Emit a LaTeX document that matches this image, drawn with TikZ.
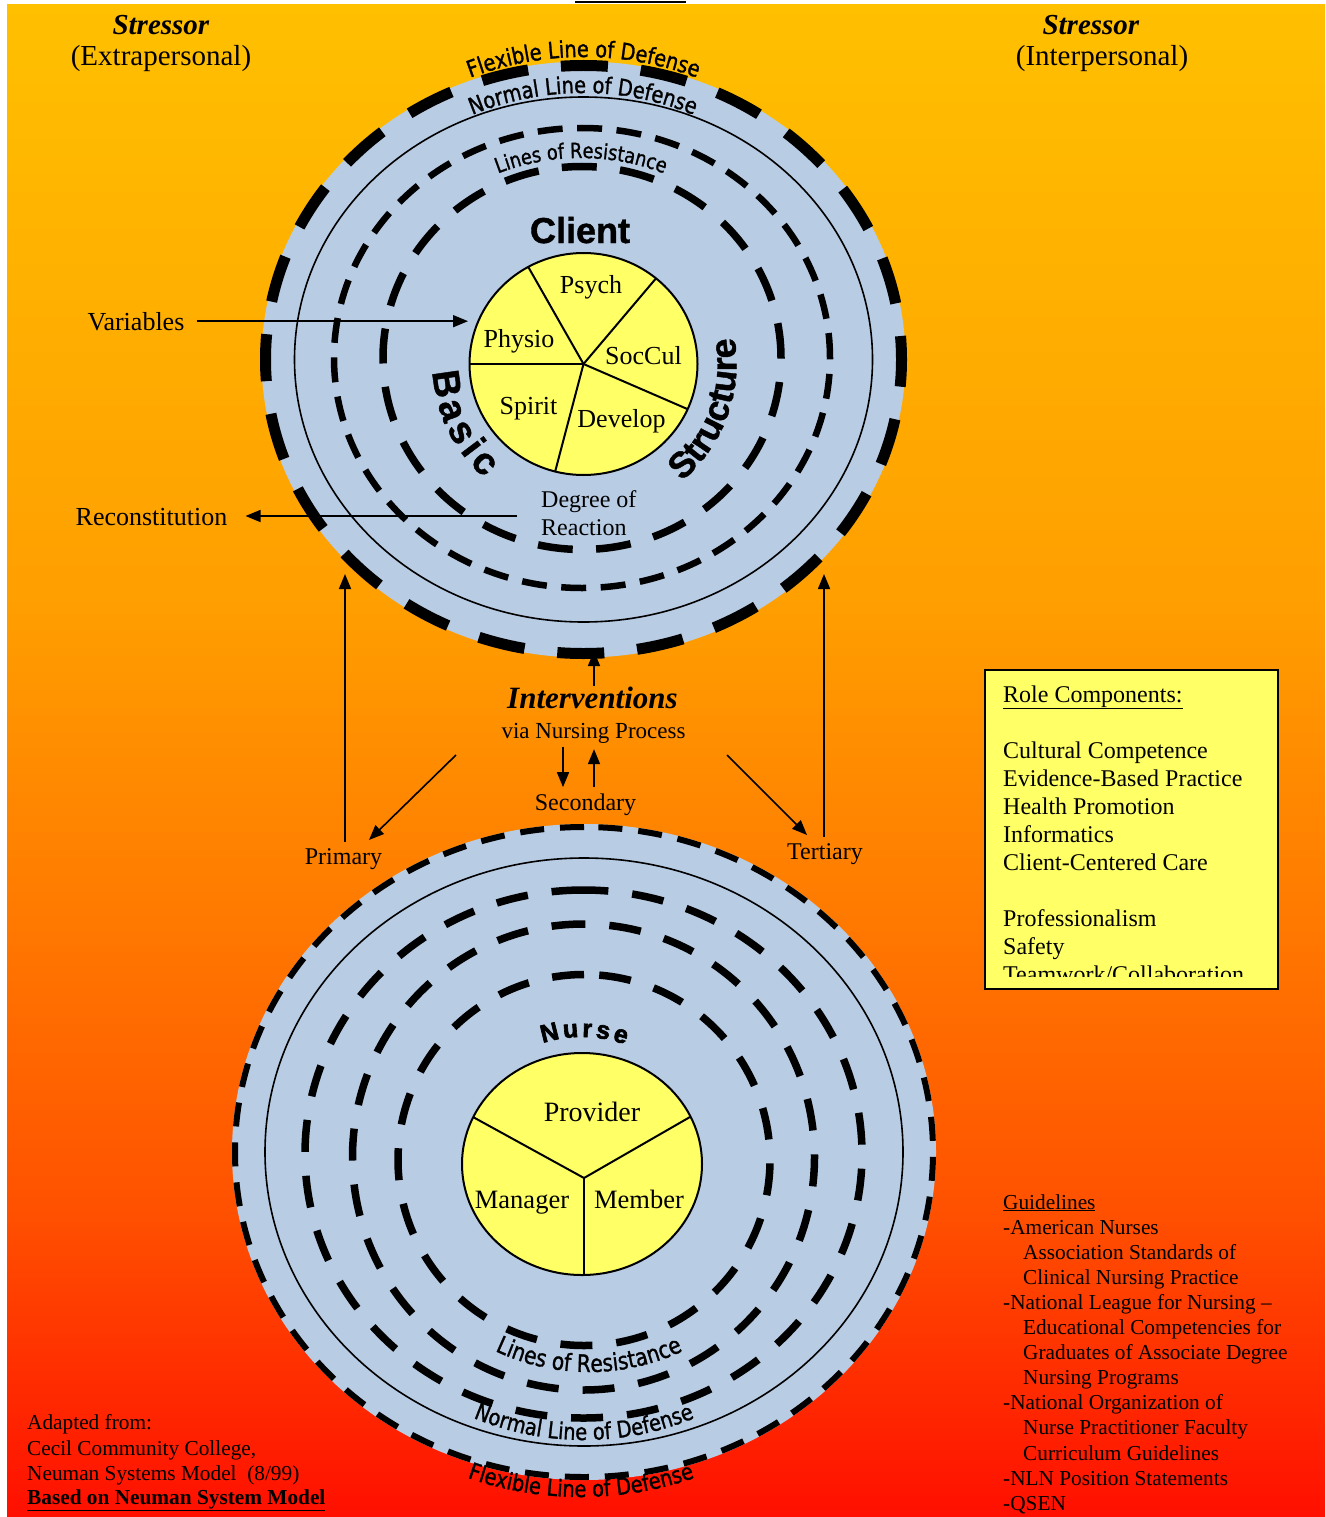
\documentclass[tikz,border=0pt]{standalone}
\usepackage{fontspec}
\setmainfont{Liberation Serif}
\newfontfamily\arcfont{DejaVu Sans}[FakeStretch=0.84, FakeBold=1.2]
\newfontfamily\hvfont{Liberation Sans}[BoldFeatures={FakeBold=1.2}]
\newfontfamily\blackfont{Liberation Sans}[BoldFeatures={FakeBold=2.5}]
\usetikzlibrary{arrows.meta,decorations.text}
\definecolor{diskblue}{RGB}{184,204,228}
\definecolor{pieyellow}{RGB}{255,255,102}
\definecolor{bgA}{RGB}{255,192,0}
\definecolor{bgB}{RGB}{255,158,0}
\definecolor{bgC}{RGB}{255,122,0}
\definecolor{bgD}{RGB}{255,80,0}
\definecolor{bgE}{RGB}{255,15,0}
\pgfdeclareverticalshading{bgshade}{100bp}{color(0bp)=(bgE); color(25bp)=(bgE); color(35bp)=(bgD); color(45bp)=(bgC); color(55bp)=(bgB); color(75bp)=(bgA); color(100bp)=(bgA)}
\newcommand\arcA{\arcfont\fontsize{23}{27}\selectfont}
\newcommand\arcC{\arcfont\fontsize{21}{25}\selectfont}
\newcommand\arcD{\arcfont\fontsize{24}{28}\selectfont}
\newcommand\bigsans{\hvfont\bfseries\fontsize{36}{40}\selectfont}
\newcommand\basicsans{\hvfont\bfseries\fontsize{38}{42}\selectfont}
\newcommand\nursesans{\blackfont\bfseries\fontsize{25}{29}\selectfont}
\begin{document}
\begin{tikzpicture}[x=1pt,y=1pt,
  lab/.style={inner sep=0pt, anchor=base, font=\fontsize{26}{30}\selectfont},
  mid/.style={inner sep=0pt, anchor=base, font=\fontsize{24}{28}\selectfont},
  stress/.style={inner sep=0pt, anchor=base, font=\fontsize{29}{33}\selectfont},
  note/.style={inner sep=0pt, anchor=base west, font=\fontsize{21.3}{25}\selectfont},
  role/.style={inner sep=0pt, anchor=base west, font=\fontsize{24}{28}\selectfont},
  arr/.style={line width=1.6pt, -{Triangle[length=15pt,width=12pt]}},
  pieline/.style={line width=2pt},
  thin/.style={line width=1.6pt},
  ringT/.style={line width=7pt},
  ringB/.style={line width=7.5pt, dash pattern=on 32pt off 24pt},
  arctext/.style={decorate, decoration={text along path, text align=center, text={#1}}},
  fittext/.style={decorate, decoration={text along path, text align={fit to path}, text={#1}}}
]
\useasboundingbox (0,0) rectangle (1325,-1517);
\fill[white] (0,0) rectangle (1325,-1517);
\shade[shading=bgshade] (7,-5) rectangle (1325,-1517);
\draw[line width=2.5pt] (575,-2) -- (686,-2);

% ---------- top circle (client) ----------
\coordinate (tc) at (583.5,-359.5);
\coordinate (tr) at (582,-358);
\fill[diskblue] (tc) ellipse [x radius=322, y radius=298];
\draw[line width=11pt, dash pattern=on 47pt off 33pt, dash phase=23.5pt] (tc) ellipse [x radius=318, y radius=294];
\draw[thin] (tc) ellipse [x radius=289, y radius=262.5];
\draw[ringT, line width=6.5pt, dash pattern=on 25pt off 14.5pt] (tr) ellipse [x radius=248, y radius=230];
\draw[ringT, line width=7.5pt, dash pattern=on 35pt off 23.4pt] (tr) ellipse [x radius=199, y radius=191.5];

\coordinate (tf) at (583.5,-377);
\coordinate (tn) at (583,-383);
\coordinate (tl) at (581,-388);
\path[arctext={|\arcA|Flexible Line of Defense}] ([shift={(118:320)}]tf) arc[start angle=118, end angle=62, radius=320];
\path[arctext={|\arcA|Normal Line of Defense}] ([shift={(120:290)}]tn) arc[start angle=120, end angle=60, radius=290];
\path[arctext={|\arcC|Lines of Resistance}] ([shift={(125:230)}]tl) arc[start angle=125, end angle=55, radius=230];

\node[inner sep=0pt, anchor=base, font=\bigsans] (client) at (580,-243) {Client};

\coordinate (yc1) at (583.5,-364);
\filldraw[fill=pieyellow, line width=2pt] (yc1) ellipse [x radius=114, y radius=111];
\foreach \a in {180,119,50.5,336,255.6}
  \draw[pieline] (yc1) -- ++(\a:114 and 111);

\path[fittext={|\basicsans|Basic}] ([shift={(183:151)}]yc1) arc[start angle=183, end angle=229, radius=151];
\path[arctext={|\bigsans|Structure}] ([shift={(300:153)}]yc1) arc[start angle=300, end angle=380, radius=153];

\node[lab] (psych) at (591,-293) {Psych};
\node[lab] (physio) at (519,-347) {Physio};
\node[lab] (soccul) at (643.5,-364) {SocCul};
\node[lab] (spirit) at (528.5,-414) {Spirit};
\node[lab] (develop) at (621.5,-427) {Develop};
\node[mid, anchor=base west] (deg1) at (541,-507) {Degree of};
\node[mid, anchor=base west] (deg2) at (541,-535) {Reaction};

% ---------- bottom circle (nurse) ----------
\coordinate (bc) at (584,-1152);
\coordinate (bA) at (583.5,-1154);
\coordinate (bB) at (583.5,-1157);
\coordinate (bC) at (584,-1160);
\fill[diskblue] (bc) ellipse [x radius=352, y radius=328];
\draw[line width=6pt, dash pattern=on 24pt off 16pt] ([shift={(90:349 and 325)}]bc) arc[start angle=90, end angle=450, x radius=349, y radius=325];
\draw[thin] (bc) ellipse [x radius=319, y radius=294];
\draw[ringB] ([shift={(90:278.5 and 264)}]bA) arc[start angle=90, end angle=450, x radius=278.5, y radius=264];
\draw[ringB] ([shift={(90:231 and 233)}]bB) arc[start angle=90, end angle=450, x radius=231, y radius=233];
\draw[ringB] ([shift={(90:186 and 185.5)}]bC) arc[start angle=90, end angle=450, x radius=186, y radius=185.5];

\path[arctext={|\arcD|Lines of Resistance}] ([shift={(240:220)}]589,-1152) arc[start angle=240, end angle=300, radius=220];
\path[arctext={|\arcA|Normal Line of Defense}] ([shift={(243:288)}]bc) arc[start angle=243, end angle=297, radius=288];
\path[arctext={|\arcA|Flexible Line of Defense}] ([shift={(246:345)}]581,-1152) arc[start angle=246, end angle=294, radius=345];

\coordinate (yc2) at (582,-1164);
\coordinate (pc2) at (584,-1178);
\coordinate (pl) at (473,-1117);
\coordinate (pr) at (690,-1117);
\coordinate (pb) at (584,-1275);
\filldraw[fill=pieyellow, line width=2pt] (yc2) ellipse [x radius=120, y radius=111];
\draw[pieline] (pc2) -- (pl);
\draw[pieline] (pc2) -- (pr);
\draw[pieline] (pc2) -- (pb);
\path[fittext={|\nursesans|Nurse}] ([shift={(108:127)}]yc2) arc[start angle=108, end angle=70, radius=127];

\node[inner sep=0pt, anchor=base, font=\fontsize{28}{32}\selectfont] (provider) at (592,-1121) {Provider};
\node[inner sep=0pt, anchor=base, font=\fontsize{26.5}{30}\selectfont] (manager) at (522,-1208) {Manager};
\node[inner sep=0pt, anchor=base, font=\fontsize{26.5}{30}\selectfont] (member) at (639,-1208) {Member};

% ---------- side labels ----------
\node[stress] (s1) at (161,-35) {\textbf{\textit{Stressor}}};
\node[stress] (e1) at (161,-66) {(Extrapersonal)};
\node[stress] (s2) at (1091,-35) {\textbf{\textit{Stressor}}};
\node[stress] (e2) at (1102,-66) {(Interpersonal)};

\node[lab] (var) at (136,-330) {Variables};
\node[lab] (recon) at (151.5,-525) {Reconstitution};
\coordinate (varTip) at (468,-322);
\draw[arr, shorten <=12pt] (var.east) -- (var.east -| varTip);
\coordinate (recStart) at (517,-516);
\draw[arr, shorten >=18pt] (recStart) -- (recStart -| recon.east);

% ---------- interventions ----------
\node[inner sep=0pt, anchor=base, font=\fontsize{31}{35}\selectfont\bfseries\itshape] (interv) at (592.5,-708) {Interventions};
\node[inner sep=0pt, anchor=base, font=\fontsize{23}{27}\selectfont] (via) at (593.5,-738) {via Nursing Process};
\node[mid] (sec) at (585.5,-810) {Secondary};
\node[mid] (prim) at (343.5,-864) {Primary};
\node[mid] (tert) at (825,-859) {Tertiary};

\coordinate (iTip) at (594,-651);
\draw[arr] (interv.north -| iTip) -- (iTip);
\coordinate (dnx) at (563,0);
\coordinate (upx) at (594,0);
\draw[arr, shorten <=4pt, shorten >=6pt] (via.south -| dnx) -- (sec.north -| dnx);
\draw[arr, shorten <=6pt, shorten >=6pt] (sec.north -| upx) -- (via.south -| upx);
\coordinate (pTip) at (345,-574);
\draw[arr, shorten <=6pt] (prim.north -| pTip) -- (pTip);
\coordinate (tTip) at (824,-574);
\draw[arr, shorten <=6pt] (tert.north -| tTip) -- (tTip);
\coordinate (dl0) at (456,-755);
\coordinate (dl1) at (369,-840);
\draw[arr] (dl0) -- (dl1);
\coordinate (dr0) at (727,-755);
\coordinate (dr1) at (807,-835);
\draw[arr] (dr0) -- (dr1);

% ---------- role components box ----------
\node[draw, line width=2pt, fill=pieyellow, anchor=north west, inner sep=0pt,
      minimum width=293pt, minimum height=319pt] (rolebox) at (983.5,-668.5) {};
\begin{scope}
\clip (985,-670) rectangle (1275,-976);
\foreach \t/\y [count=\i] in {{\underline{Role Components:}}/702, {Cultural Competence}/758,
   {Evidence-Based Practice}/786, {Health Promotion}/814, {Informatics}/842,
   {Client-Centered Care}/870, {Professionalism}/926, {Safety}/954,
   {Teamwork/Collaboration}/982}
  \node[role] (role\i) at (1003,-\y) {\t};
\end{scope}

% ---------- guidelines ----------
\foreach \x/\t [count=\i] in {1003/{\underline{Guidelines}}, 1003/{-American Nurses},
   1023/{Association Standards of}, 1023/{Clinical Nursing Practice},
   1003/{-National League for Nursing --}, 1023/{Educational Competencies for},
   1023/{Graduates of Associate Degree}, 1023/{Nursing Programs},
   1003/{-National Organization of}, 1023/{Nurse Practitioner Faculty},
   1023/{Curriculum Guidelines}, 1003/{-NLN Position Statements}, 1003/{-QSEN}}
  \node[note] (gl\i) at (\x,{-1209-25.1*(\i-1)}) {\t};

% ---------- source ----------
\node[note] (src1) at (27,-1429) {Adapted from:};
\node[note] (src2) at (27,-1455) {Cecil Community College,};
\node[note] (src3) at (27,-1480) {Neuman Systems Model\ \ (8/99)};
\node[note] (src4) at (27,-1504) {\textbf{\underline{Based on Neuman System Model}}};
\end{tikzpicture}
\end{document}
